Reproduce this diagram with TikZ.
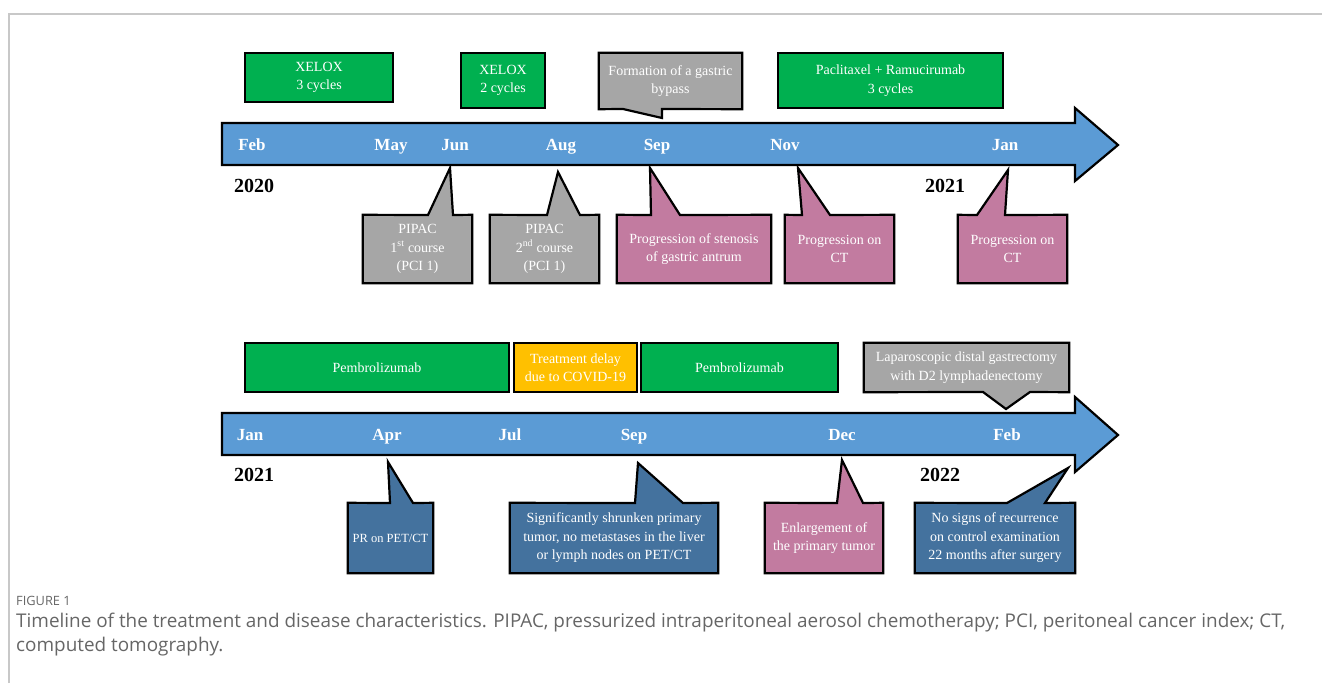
\documentclass[tikz,border=0pt]{standalone}
\usepackage{fontspec}
\setmainfont{Liberation Serif}
\newfontfamily\capfont{Open Sans}
\usetikzlibrary{backgrounds}
\definecolor{tlblue}{HTML}{5B9BD5}
\definecolor{tgreen}{HTML}{00B050}
\definecolor{torange}{HTML}{FFC000}
\definecolor{tgray}{HTML}{A6A6A6}
\definecolor{tpink}{HTML}{C27BA0}
\definecolor{tdblue}{HTML}{44729E}
\definecolor{framec}{HTML}{C8C8C8}
\definecolor{capc}{HTML}{666666}
\tikzset{
  tlarrow/.style={draw=black, line width=2.2pt, fill=tlblue, line join=miter},
  boxtxt/.style={inner sep=0pt, text=white, align=center,
    font=\fontsize{14}{18.5}\selectfont},
  plainbox/.style={boxtxt, draw=black, line width=2.2pt},
  callsh/.style={draw=black, line width=2.2pt, line join=miter},
  month/.style={text=white, inner sep=0pt, text height=11.5pt, text depth=3.5pt,
    font=\fontsize{17}{20}\selectfont\bfseries},
  yearlbl/.style={text=black, inner sep=0pt, text height=13pt, text depth=0pt,
    font=\fontsize{20}{22}\selectfont\bfseries},
}
\begin{document}
\begin{tikzpicture}[x=1pt,y=-1pt]
\useasboundingbox (0,0) rectangle (1322,683);
\draw[framec, line width=1.2pt] (9,683) -- (9,14) -- (1322,14);

% ---------- top timeline ----------
\draw[tlarrow] (222,123) -- (1075,123) -- (1075,108) -- (1118,145) -- (1075,181) -- (1075,165) -- (222,165) -- cycle;
\node[month] (m1) at (252,146) {Feb};
\node[month] (m2) at (391,146) {May};
\node[month] (m3) at (455,146) {Jun};
\node[month] (m4) at (561,146) {Aug};
\node[month] (m5) at (657,146) {Sep};
\node[month] (m6) at (785,146) {Nov};
\node[month] (m7) at (1005,146) {Jan};
\node[yearlbl] (y1) at (254,186) {2020};
\node[yearlbl] (y2) at (945,186) {2021};

\node[plainbox, fill=tgreen, minimum width=148pt, minimum height=49pt] (xel3) at (319,77.5) {XELOX\\3 cycles};
\node[plainbox, fill=tgreen, minimum width=84pt, minimum height=55pt] (xel2) at (503,80.5) {XELOX\\2 cycles};
\node[plainbox, fill=tgreen, minimum width=225pt, minimum height=55pt] (pacl) at (890.5,80.5) {Paclitaxel + Ramucirumab\\3 cycles};

\node[boxtxt, minimum width=143pt, minimum height=56pt] (form) at (670.5,81) {Formation of a gastric\\bypass};
\node[boxtxt, minimum width=109pt, minimum height=68pt] (pip1) at (417.5,249) {PIPAC\\1\textsuperscript{st} course\\(PCI 1)};
\node[boxtxt, minimum width=109pt, minimum height=68pt] (pip2) at (544.5,249) {PIPAC\\2\textsuperscript{nd} course\\(PCI 1)};
\node[boxtxt, minimum width=154pt, minimum height=68pt] (sten) at (694,249) {Progression of stenosis\\of gastric antrum};
\node[boxtxt, minimum width=109pt, minimum height=68pt] (pnov) at (839.5,249) {Progression on\\CT};
\node[boxtxt, minimum width=109pt, minimum height=68pt] (pjan) at (1012.5,249) {Progression on\\CT};

% ---------- bottom timeline ----------
\draw[tlarrow] (222,413) -- (1075,413) -- (1075,397) -- (1118,435) -- (1075,472) -- (1075,455) -- (222,455) -- cycle;
\node[month] (n1) at (250,436) {Jan};
\node[month] (n2) at (387,436) {Apr};
\node[month] (n3) at (510,436) {Jul};
\node[month] (n4) at (634,436) {Sep};
\node[month] (n5) at (842,436) {Dec};
\node[month] (n6) at (1007,436) {Feb};
\node[yearlbl] (z1) at (254,475) {2021};
\node[yearlbl] (z2) at (940,475) {2022};

\node[plainbox, fill=tgreen, minimum width=264pt, minimum height=49pt] (pem1) at (377,367.5) {Pembrolizumab};
\node[plainbox, fill=torange, minimum width=123pt, minimum height=49pt] (delay) at (575.5,367.5) {Treatment delay\\due to COVID-19};
\node[plainbox, fill=tgreen, minimum width=197pt, minimum height=49pt] (pem2) at (739.5,367.5) {Pembrolizumab};
\node[boxtxt, minimum width=205pt, minimum height=49pt] (lap) at (966.5,367.5) {Laparoscopic distal gastrectomy\\with D2 lymphadenectomy};

\node[boxtxt, minimum width=85pt, minimum height=70pt, font=\fontsize{12.5}{16}\selectfont] (pr) at (390.5,538) {PR on PET/CT};
\node[boxtxt, minimum width=208pt, minimum height=70pt] (sig) at (614,538) {Significantly shrunken primary\\tumor, no metastases in the liver\\or lymph nodes on PET/CT};
\node[boxtxt, minimum width=118pt, minimum height=70pt] (enl) at (824,538) {Enlargement of\\the primary tumor};
\node[boxtxt, minimum width=160pt, minimum height=70pt] (nos) at (995,538) {No signs of recurrence\\on control examination\\22 months after surgery};

\begin{scope}[on background layer]
\draw[callsh, fill=tgray] (form.north west) -- (form.north east) -- (form.south east) -- (662,109) -- (662,118) -- (623,109) -- (form.south west) -- cycle;
\draw[callsh, fill=tgray] (pip1.north west) -- (428,215) -- (450,168) -- (453,215) -- (pip1.north east) |- (pip1.south west) -- cycle;
\draw[callsh, fill=tgray] (pip2.north west) -- (547,215) -- (558,172) -- (580,215) -- (pip2.north east) |- (pip2.south west) -- cycle;
\draw[callsh, fill=tpink] (sten.north west) -- (651,215) -- (650,168) -- (680,215) -- (sten.north east) |- (sten.south west) -- cycle;
\draw[callsh, fill=tpink] (pnov.north west) -- (802,215) -- (798,168) -- (830,215) -- (pnov.north east) |- (pnov.south west) -- cycle;
\draw[callsh, fill=tpink] (pjan.north west) -- (977,215) -- (1008,170) -- (1005,215) -- (pjan.north east) |- (pjan.south west) -- cycle;
\draw[callsh, fill=tgray] (lap.north west) -- (lap.north east) -- (lap.south east) -- (1030,392) -- (1006,409) -- (983,392) -- (lap.south west) -- cycle;
\draw[callsh, fill=tdblue] (pr.north west) -- (390,503) -- (388,462) -- (413,503) -- (pr.north east) |- (pr.south west) -- cycle;
\draw[callsh, fill=tdblue] (sig.north west) -- (635,503) -- (638,463) -- (683,503) -- (sig.north east) |- (sig.south west) -- cycle;
\draw[callsh, fill=tpink] (enl.north west) -- (837,503) -- (842,460) -- (863,503) -- (enl.north east) |- (enl.south west) -- cycle;
\draw[callsh, fill=tdblue] (nos.north west) -- (1007,503) -- (1068,468) -- (1045,503) -- (nos.north east) |- (nos.south west) -- cycle;
\end{scope}

% ---------- caption ----------
\node[anchor=west, inner sep=0pt, text=capc, font=\capfont\fontsize{12.8}{14}\selectfont] (fig) at (16,601) {FIGURE 1};
\node[anchor=north west, inner sep=0pt, text=capc, align=left, font=\capfont\fontsize{18.9}{23.5}\selectfont] (cap) at (16,613) {Timeline of the treatment and disease characteristics. PIPAC, pressurized intraperitoneal aerosol chemotherapy; PCI, peritoneal cancer index; CT,\\computed tomography.};
\end{tikzpicture}
\end{document}
